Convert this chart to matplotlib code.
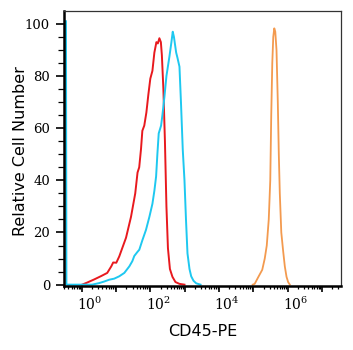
import numpy as np
import matplotlib
matplotlib.use("Agg")
import matplotlib.pyplot as plt
import matplotlib.transforms as mtransforms
from matplotlib.ticker import LogLocator, FixedLocator, NullFormatter

plt.rcParams["mathtext.fontset"] = "dejavuserif"

# Izotip (crveno)
red_x = [1.02, 1.43, 2.29, 3.67, 5.5, 7.2, 8.2, 10.1, 12.3, 19.4, 27.1, 36, 42, 47,
         53, 58, 66, 76, 87, 99, 114, 130, 149, 164, 182, 201, 215, 238, 264, 292,
         323, 369, 437, 535, 700, 980]
red_y = [0, 0.8, 2, 3.3, 4.5, 7, 8.5, 8.4, 10.8, 18, 26, 35, 43, 45,
         52, 59, 61, 66, 73, 79, 82, 89, 93, 92.5, 94.5, 93, 88, 75, 55, 30,
         14, 6, 3, 1, 0.3, 0]

# Nebojeno (cijan)
cyan_x = [0.345, 0.355, 2.0, 3.2, 4.5, 6.3, 8.8, 12.3, 17.3, 24.2, 29.6, 33.8, 41.4,
          47.3, 58, 74, 93, 114, 130, 146, 159, 174, 204, 223, 255, 292, 357, 408,
          446, 483, 561, 612, 700, 774, 874, 980, 1084, 1199, 1372, 1538, 1795,
          2153, 2877]
cyan_y = [101, 0, 0, 0.6, 1.2, 1.9, 2.3, 3.2, 4.5, 7, 9, 11, 12.5,
          13.4, 17, 21, 26, 31, 36, 41.5, 50, 58, 61, 65, 72, 80, 87.5, 93,
          97, 95, 89, 87, 83.6, 70, 51.7, 40, 25, 12, 6, 3.2, 1.5,
          0.5, 0]

# CD45-PE (narancasto)
orange_x = [95500, 109000, 136000, 181000, 214000, 245000, 280000, 310000, 331000,
            355000, 379000, 406000, 434000, 471000, 514000, 550000, 588000, 650000,
            734000, 823000, 923000, 1028000, 1151000]
orange_y = [0, 0.3, 2.7, 5.7, 10, 15, 25, 40, 65,
            85, 95, 98.3, 97, 90, 70, 50, 35, 20,
            13, 7, 3, 1, 0]

fig = plt.figure(figsize=(3.53, 3.5), dpi=100)
ax = fig.add_axes([0.181, 0.183, 0.785, 0.786])

ax.plot(red_x, red_y, color="#e8191e", linewidth=1.4)
ax.plot(cyan_x, cyan_y, color="#1ec8f0", linewidth=1.4)
ax.plot(orange_x, orange_y, color="#f39a4f", linewidth=1.3)

ax.set_xscale("log")
ax.set_xlim(0.3, 3.57e7)
ax.set_ylim(-0.5, 105)

# x os: dekade i minor ticks
ax.xaxis.set_major_locator(FixedLocator([1e0, 1e1, 1e2, 1e3, 1e4, 1e5, 1e6, 1e7]))
ax.xaxis.set_minor_locator(LogLocator(base=10, subs=np.arange(2, 10), numticks=20))
ax.xaxis.set_minor_formatter(NullFormatter())
ax.set_xticklabels(["$10^{0}$", "", "$10^{2}$", "", "$10^{4}$", "", "$10^{6}$", ""])
ax.tick_params(axis="x", which="major", length=4, width=1.2, labelsize=10, pad=3)
ax.tick_params(axis="x", which="minor", length=2.5, width=0.9)
offset = mtransforms.ScaledTranslation(8 / 100, 0, fig.dpi_scale_trans)
for lab in ax.get_xticklabels():
    lab.set_transform(lab.get_transform() + offset)

# y os
ax.set_yticks([0, 20, 40, 60, 80, 100])
ax.set_yticks(np.arange(0, 105, 5), minor=True)
ax.tick_params(axis="y", which="major", length=6, width=1.2, labelsize=9.5, pad=4)
ax.tick_params(axis="y", which="minor", length=4, width=0.9)
for lab in ax.get_yticklabels():
    lab.set_fontfamily("DejaVu Serif")

ax.spines["left"].set_linewidth(1.8)
ax.spines["bottom"].set_linewidth(1.8)
ax.spines["top"].set_linewidth(0.9)
ax.spines["right"].set_linewidth(0.9)
ax.spines["top"].set_color("#333333")
ax.spines["right"].set_color("#333333")

ax.set_xlabel("CD45-PE", fontsize=11.5, labelpad=8)
ax.set_ylabel("Relative Cell Number", fontsize=11.5)
ax.yaxis.set_label_coords(-0.13, 0.49)

fig.savefig("out.png", dpi=100)
